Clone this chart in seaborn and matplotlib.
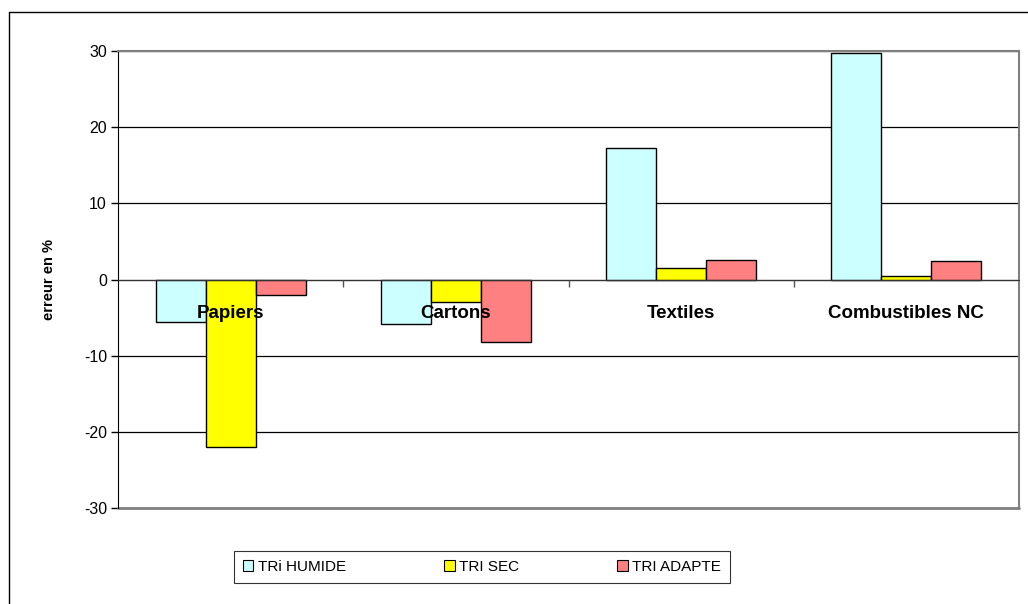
import numpy as np
import pandas as pd
import seaborn as sns
import matplotlib.pyplot as plt
from matplotlib.lines import Line2D

# Données
categories = ["Papiers", "Cartons", "Textiles", "Combustibles NC"]
tri_humide = [-5.6, -5.8, 17.2, 29.8]
tri_sec = [-22.0, -2.9, 1.5, 0.4]
tri_adapte = [-2.0, -8.2, 2.6, 2.4]
series = ["TRi HUMIDE", "TRI SEC", "TRI ADAPTE"]
couleurs = ["#CCFFFF", "#FFFF00", "#FF8080"]

df = pd.DataFrame({
    "categorie": categories * 3,
    "valeur": tri_humide + tri_sec + tri_adapte,
    "serie": [s for s in series for _ in categories],
})

sns.set_style("white")
plt.rcParams['font.family'] = ['Liberation Sans', 'DejaVu Sans']
plt.rcParams['axes.unicode_minus'] = False
for k in ['text.color', 'axes.labelcolor', 'xtick.color', 'ytick.color']:
    plt.rcParams[k] = 'black'

fig = plt.figure(figsize=(10.28, 6.04), dpi=100)
ax = fig.add_axes([118 / 1028, 1 - 508 / 604, 901 / 1028, 457 / 604])

sns.barplot(data=df, x="categorie", y="valeur", hue="serie", palette=couleurs,
            width=0.667, gap=0, edgecolor="black", linewidth=1, saturation=1,
            ax=ax, legend=False, zorder=3)

ax.set_ylim(-30, 30)
ax.set_xlim(-0.5, 3.5)
ax.set_yticks(np.arange(-30, 31, 10))
ax.yaxis.grid(True, color="black", linewidth=0.9, zorder=0)
ax.tick_params(axis="y", labelsize=11.5, length=5, width=1, color="black",
               direction="out", left=True, pad=3)

# axe des x sur la ligne zéro
ax.spines["bottom"].set_position(("data", 0))
ax.spines["bottom"].set_color("#333333")
ax.spines["bottom"].set_zorder(4)
ax.spines["left"].set_color("black")
for s in ["top", "right"]:
    ax.spines[s].set_color("#808080")
    ax.spines[s].set_linewidth(1.5)
ax.axhline(-30, color="#808080", linewidth=2, clip_on=False)

ax.set_xticks(range(4))
ax.set_xticklabels(categories, fontsize=13.5, fontweight="bold")
ax.tick_params(axis="x", length=0, pad=18)
ax.xaxis.set_zorder(5)
ax.set_xticks([0.5, 1.5, 2.5], minor=True)
ax.tick_params(axis="x", which="minor", length=5, width=1, color="#555555",
               direction="out", bottom=True)
ax.set_xlabel("")
ax.set_ylabel("erreur en %", fontsize=10.5, fontweight="bold", labelpad=20)

# cadre extérieur
fig.add_artist(Line2D([9 / 1028, 9 / 1028], [0, 1 - 12 / 604], color="black", lw=1))
fig.add_artist(Line2D([9 / 1028, 1], [1 - 12 / 604, 1 - 12 / 604], color="black", lw=1))

handles = [plt.Rectangle((0, 0), 1, 1, facecolor=c, edgecolor="black", lw=0.8) for c in couleurs]
leg = fig.legend(handles, series, loc="center", bbox_to_anchor=(482 / 1028, 1 - 567 / 604),
                 ncol=3, fontsize=11, frameon=True, fancybox=False, edgecolor="black",
                 handlelength=0.7, handleheight=0.7, handletextpad=0.3, columnspacing=6.4,
                 borderpad=0.6, borderaxespad=0)
leg.get_frame().set_linewidth(0.8)

fig.savefig("out.png", dpi=100)
